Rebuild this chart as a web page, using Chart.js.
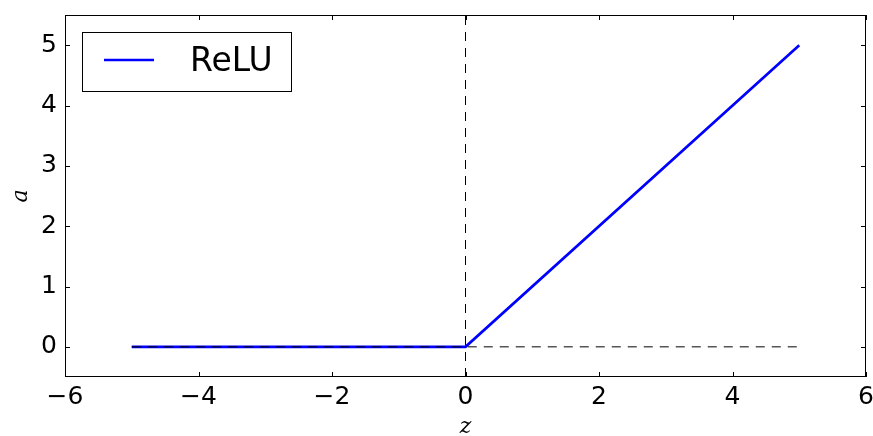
<!DOCTYPE html>
<html>
<head>
<meta charset="utf-8">
<script src="https://cdn.jsdelivr.net/npm/chart.js@4/dist/chart.umd.min.js"></script>
<style>
  html, body { margin: 0; padding: 0; background: #fff; }
  #wrap { width: 873px; height: 436px; }
</style>
</head>
<body>
<div id="wrap"><canvas id="reluChart"></canvas></div>
<script>
// ReLU curve
var zValues = [-5, 0, 5];
var reluValues = [0, 0, 5];
// dashed helper lines (axes through origin)
var hLineZ = [-5, 5];
var hLineA = [0, 0];
var vLineZ = [0, 0];
var vLineA = [-0.5, 5.5];
// tick labels
var xTicks = [-6, -4, -2, 0, 2, 4, 6];
var yTicks = [0, 1, 2, 3, 4, 5];

function toPoints(xs, ys) {
    return xs.map(function (x, i) { return { x: x, y: ys[i] }; });
}

// frame + inward tick marks, like matplotlib classic
var framePlugin = {
    id: 'frame',
    afterDraw: function (chart) {
        var ctx = chart.ctx;
        var a = chart.chartArea;
        var xs = chart.scales.x, ys = chart.scales.y;
        ctx.save();
        ctx.strokeStyle = '#000';
        ctx.lineWidth = 1;
        ctx.strokeRect(Math.round(a.left) + 0.5, Math.round(a.top) + 0.5,
            Math.round(a.right - a.left) - 1, Math.round(a.bottom - a.top) - 1);
        ctx.beginPath();
        xTicks.forEach(function (v) {
            var px = Math.round(xs.getPixelForValue(v)) + 0.5;
            ctx.moveTo(px, a.bottom); ctx.lineTo(px, a.bottom - 5);
            ctx.moveTo(px, a.top); ctx.lineTo(px, a.top + 5);
        });
        yTicks.forEach(function (v) {
            var py = Math.round(ys.getPixelForValue(v)) + 0.5;
            ctx.moveTo(a.left, py); ctx.lineTo(a.left + 5, py);
            ctx.moveTo(a.right, py); ctx.lineTo(a.right - 5, py);
        });
        ctx.stroke();

        // legend box
        var ds = chart.data.datasets[2];
        var bx = a.left + 17, by = a.top + 17, bw = 209, bh = 59;
        ctx.fillStyle = '#fff';
        ctx.fillRect(bx, by, bw, bh);
        ctx.strokeRect(Math.round(bx) + 0.5, Math.round(by) + 0.5, bw, bh);
        ctx.beginPath();
        ctx.strokeStyle = ds.borderColor;
        ctx.lineWidth = ds.borderWidth;
        ctx.moveTo(bx + 22, by + 28); ctx.lineTo(bx + 72, by + 28);
        ctx.stroke();
        ctx.fillStyle = '#000';
        ctx.font = '33px "DejaVu Sans"';
        ctx.textBaseline = 'middle';
        ctx.textAlign = 'left';
        ctx.fillText(ds.label, bx + 108, by + 30);
        ctx.restore();
    }
};

new Chart(document.getElementById('reluChart'), {
    type: 'scatter',
    data: {
        datasets: [
            {
                label: 'h',
                data: toPoints(hLineZ, hLineA),
                showLine: true,
                borderColor: '#000',
                borderWidth: 1,
                borderDash: [9, 7],
                pointRadius: 0,
                order: 1
            },
            {
                label: 'v',
                data: toPoints(vLineZ, vLineA),
                showLine: true,
                borderColor: '#000',
                borderWidth: 1,
                borderDash: [9, 7],
                pointRadius: 0,
                order: 1
            },
            {
                label: 'ReLU',
                data: toPoints(zValues, reluValues),
                showLine: true,
                borderColor: '#0000ff',
                borderWidth: 2.7,
                pointRadius: 0,
                order: 2
            }
        ]
    },
    options: {
        responsive: true,
        maintainAspectRatio: false,
        animation: false,
        layout: { padding: { top: 15, right: 7, left: 0, bottom: 0 } },
        plugins: {
            legend: { display: false },
            tooltip: { enabled: false }
        },
        scales: {
            x: {
                type: 'linear',
                min: -6,
                max: 6,
                afterBuildTicks: function (scale) {
                    scale.ticks = xTicks.map(function (v) { return { value: v }; });
                },
                afterFit: function (scale) {
                    scale.height = 59;
                    scale.paddingLeft = 0;
                    scale.paddingRight = 0;
                },
                grid: { display: false, drawTicks: false },
                border: { display: false },
                ticks: {
                    color: '#000',
                    padding: 5,
                    maxRotation: 0,
                    font: { family: 'DejaVu Sans', size: 25 },
                    callback: function (v) { return String(v).replace('-', '\u2212'); }
                },
                title: {
                    display: true,
                    text: 'z',
                    color: '#000',
                    font: { family: 'DejaVu Serif', style: 'italic', size: 22, lineHeight: 0.8 },
                    padding: { top: 0, bottom: 0 }
                }
            },
            y: {
                type: 'linear',
                min: -0.5,
                max: 5.5,
                afterBuildTicks: function (scale) {
                    scale.ticks = yTicks.map(function (v) { return { value: v }; });
                },
                afterFit: function (scale) {
                    scale.width = 65;
                    scale.paddingTop = 0;
                    scale.paddingBottom = 0;
                },
                grid: { display: false, drawTicks: false },
                border: { display: false },
                ticks: {
                    color: '#000',
                    padding: 8,
                    font: { family: 'DejaVu Sans', size: 25 }
                },
                title: {
                    display: true,
                    text: 'a',
                    color: '#000',
                    font: { family: 'DejaVu Serif', style: 'italic', size: 22, lineHeight: 1 },
                    padding: { top: 10, bottom: 0 }
                }
            }
        }
    },
    plugins: [framePlugin]
});
</script>
</body>
</html>
